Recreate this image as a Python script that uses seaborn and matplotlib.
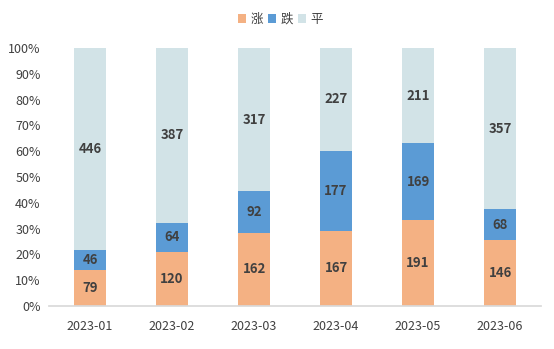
import matplotlib
matplotlib.use("Agg")
import matplotlib.pyplot as plt
import seaborn as sns
import numpy as np
import pandas as pd
from matplotlib.ticker import PercentFormatter

months = ["2023-01", "2023-02", "2023-03", "2023-04", "2023-05", "2023-06"]
zhang = [79, 120, 162, 167, 191, 146]
die = [46, 64, 92, 177, 169, 68]
ping = [446, 387, 317, 227, 211, 357]
series_names = ["涨", "跌", "平"]
colors = ["#F4B183", "#5B9BD5", "#D2E3E7"]

sns.set_theme(style="white")
plt.rcParams['font.family'] = ['Noto Sans CJK SC', 'DejaVu Sans']

fig = plt.figure(figsize=(5.54, 3.49), dpi=100)
ax = fig.add_axes([49/554, (349-306)/349, (541-49)/554, (306-48)/349])

total = np.array(zhang) + np.array(die) + np.array(ping)
bottom = np.zeros(len(months))
for name, vals, c in zip(series_names, [zhang, die, ping], colors):
    v = np.array(vals)
    pct = v / total
    df = pd.DataFrame({"month": months, "pct": pct})
    sns.barplot(data=df, x="month", y="pct", color=c, bottom=bottom, width=0.4,
                ax=ax, label=name, saturation=1, edgecolor="none")
    for i, (p, b, n) in enumerate(zip(pct, bottom, v)):
        ax.text(i, b + p / 2, str(n), ha="center", va="center", fontsize=9.5,
                fontweight="bold", color="#404040")
    bottom = bottom + pct

ax.set_ylim(0, 1)
ax.set_xlim(-0.5, 5.5)
ax.set_yticks(np.arange(0, 1.01, 0.1))
ax.yaxis.set_major_formatter(PercentFormatter(1.0, decimals=0))
ax.set_xlabel("")
ax.set_ylabel("")
for s in ["top", "right", "left"]:
    ax.spines[s].set_visible(False)
ax.spines["bottom"].set_color("#D9D9D9")
ax.tick_params(axis="both", labelsize=9, colors="#404040", length=0, pad=6)
ax.tick_params(axis="x", pad=10)

leg = ax.legend(loc="upper center", bbox_to_anchor=(0.47, 1.18), ncol=3, frameon=False,
                fontsize=9, handlelength=0.7, handleheight=0.7, handletextpad=0.3,
                columnspacing=0.4)
for t in leg.get_texts():
    t.set_color("#404040")

fig.savefig("out.png", dpi=100)
